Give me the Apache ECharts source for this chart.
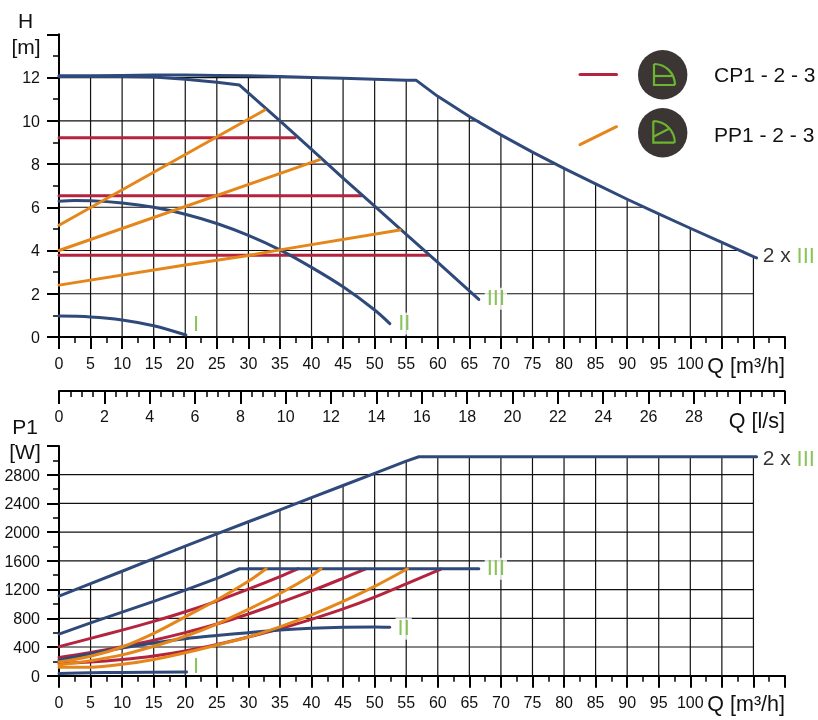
<!DOCTYPE html>
<html><head><meta charset="utf-8">
<style>html,body{margin:0;padding:0;background:#fff}#c{width:818px;height:720px}</style>
<script src="https://cdn.jsdelivr.net/npm/echarts@6/dist/echarts.min.js"></script>
</head><body><div id="c"></div>
<script>
// ---- head curves H(Q) ----
const headI = [[0,0.97],[5,0.93],[10,0.79],[15,0.52],[20.1,0.09]];
const headII = [[0,6.28],[2.5,6.31],[5,6.3],[10,6.2],[15,6.0],[20,5.68],[25,5.25],[30,4.7],[35,4.03],[40,3.22],[45,2.32],[50,1.25],[52.4,0.62]];
const headIII = [[0,12.05],[10,12.05],[15,12.02],[20,11.92],[25,11.78],[28.6,11.65],[35,10.0],[40,8.68],[45,7.35],[50,6.05],[55,4.75],[60,3.45],[65,2.13],[66.5,1.74]];
const head2xIII = [[0,12.08],[5,12.08],[10,12.1],[15,12.12],[20,12.12],[25,12.1],[30,12.08],[35,12.05],[40,12.0],[45,11.97],[50,11.92],[55,11.87],[56.6,11.87],[60,11.13],[65,10.2],[70,9.35],[75,8.55],[80,7.8],[85,7.08],[90,6.37],[95,5.69],[100,5.03],[105,4.38],[110,3.72],[110.5,3.66]];
const headCP = [[[0,9.21],[37.4,9.21]],[[0,6.53],[47.9,6.53]],[[0,3.78],[58.5,3.78]]];
const headPP = [[[0,5.17],[32.6,10.5]],[[0,4.0],[41.3,8.2]],[[0,2.4],[20,3.33],[30,3.77],[35,4.03],[54,4.95]]];
// ---- power curves P1(Q) ----
const powerI = [[0,30],[5,40],[10,45],[20.2,50]];
const powerII = [[0,218],[5,305],[10,385],[15,455],[20,515],[25,560],[30,600],[35,636],[40,662],[45,676],[50,680],[52.4,676]];
const powerIII = [[0,580],[5,735],[10,885],[15,1035],[20,1193],[25,1355],[28.6,1490],[66.5,1490]];
const power2xIII = [[0,1110],[5,1282],[10,1455],[15,1630],[20,1805],[25,1975],[30,2145],[35,2310],[40,2480],[45,2650],[50,2820],[55,2990],[57,3050],[110.5,3050]];
const powerCP = [
  [[0,405],[5,520],[10,635],[15,757],[20,891],[25,1040],[30,1205],[35,1380],[37.9,1490]],
  [[0,255],[5,325],[10,405],[15,495],[20,600],[25,720],[30,860],[35,1018],[40,1181],[45,1357],[48.5,1485]],
  [[0,172],[5,190],[10,225],[15,275],[20,345],[25,435],[30,540],[35,655],[40,785],[45,930],[50,1095],[55,1280],[60.5,1485]]
];
const powerPP = [
  [[0,190],[5,270],[10,400],[15,590],[20,820],[25,1055],[30,1315],[32.8,1490]],
  [[0,150],[5,210],[10,290],[15,410],[20,550],[25,720],[30,925],[35,1145],[40,1395],[41.5,1490]],
  [[0,116],[5,118],[10,158],[15,227],[20,320],[25,427],[30,540],[35,680],[40,846],[45,1035],[50,1245],[55.2,1490]]
];
// ---- where each grid line stops (it ends at the 2 x III curve) ----
const headVTop = [[5,12],[10,12],[15,12],[20,12],[25,12],[30,12],[35,12],[40,12],[45,11.95],[50,11.92],[55,11.87],[60,11.13],[65,10.2],[70,9.35],[75,8.55],[80,7.8],[85,7.08],[90,6.37],[95,5.69],[100,5.03],[105,4.38],[110,3.72]];
const headHEnd = [[2,110],[4,108.3],[6,92.5],[8,78.6],[10,66.5],[12,40]];
const powerVTop = [[5,1282],[10,1455],[15,1630],[20,1805],[25,1975],[30,2145],[35,2310],[40,2480],[45,2650],[50,2820],[55,2990],[60,3050],[65,3050],[70,3050],[75,3050],[80,3050],[85,3050],[90,3050],[95,3050],[100,3050],[105,3050],[110,3050]];
const powerHEnd = [[400,110],[800,110],[1200,110],[1600,110],[2000,110],[2400,110],[2800,110]];
// ---- curve labels ----
const headNotes = [[21.7,0.57,'I'],[54.7,0.62,'II'],[69.2,1.77,'III']];
const powerNotes = [[21.7,125,'I'],[54.6,655,'II'],[69.2,1490,'III']];
const head2xNote = [115.6,3.72];
const power2xNote = [115.6,3010];

const NAVY='#2f4a7a', RED='#b5243f', ORANGE='#e5861a', GREEN='#6cb52f', FONT='"Liberation Sans", Arial, sans-serif';
const series=[];
function line(g,data,color,width,z,smooth){
  series.push({type:'line',xAxisIndex:g,yAxisIndex:g,data,symbol:'none',silent:true,animation:false,z,clip:false,smooth:smooth?0.35:false,
    lineStyle:{color,width,cap:'round',join:'round'}});
}
function grid(g,vTop,hEnd){
  vTop.forEach(([x,t])=>line(g,[[x,0],[x,t]],'#111',1.2,1));
  hEnd.forEach(([y,e])=>line(g,[[0,y],[e,y]],'#111',1.2,1));
}
function notes(g,list,two){
  series.push({type:'scatter',xAxisIndex:g,yAxisIndex:g,symbolSize:1,silent:true,animation:false,clip:false,z:6,
    itemStyle:{color:'transparent'},
    data:list.map(n=>({value:[n[0],n[1]],label:{show:true,position:'inside',formatter:n[2],
      color:GREEN,fontFamily:FONT,fontSize:22,backgroundColor:n[2]==='I'?'transparent':'#fff',padding:[0,2]}}))});
  series.push({type:'scatter',xAxisIndex:g,yAxisIndex:g,symbolSize:1,silent:true,animation:false,clip:false,z:6,
    itemStyle:{color:'transparent'},
    data:[{value:two,label:{show:true,position:'inside',formatter:'{a|2 x }{b|III}',
      rich:{a:{color:'#000',fontFamily:FONT,fontSize:21},b:{color:GREEN,fontFamily:FONT,fontSize:22}}}}]});
}
grid(0,headVTop,headHEnd); grid(1,powerVTop,powerHEnd);
headCP.forEach(d=>line(0,d,RED,3,3));
[headI,headII].forEach(d=>line(0,d,NAVY,3,4,true));
[headIII,head2xIII].forEach(d=>line(0,d,NAVY,3,4));
headPP.forEach(d=>line(0,d,ORANGE,3,5));
powerCP.forEach(d=>line(1,d,RED,3,3,true));
[powerI,powerII].forEach(d=>line(1,d,NAVY,3,4,true));
[powerIII,power2xIII].forEach(d=>line(1,d,NAVY,3,4));
powerPP.forEach(d=>line(1,d,ORANGE,3,5,true));
notes(0,headNotes,head2xNote); notes(1,powerNotes,power2xNote);

const lbl={color:'#111',fontFamily:FONT,fontSize:16};
const axLine={show:true,onZero:false,lineStyle:{color:'#000',width:2}};
function xAx(g,max,interval,last,minor,margin,major,minorLen){
  return {type:'value',gridIndex:g,min:0,max,interval,position:'bottom',
    axisLine:axLine,axisTick:{show:true,length:major,lineStyle:{color:'#000',width:2}},
    minorTick:{show:true,splitNumber:minor,length:minorLen,lineStyle:{color:'#000',width:1.5}},
    splitLine:{show:false},minorSplitLine:{show:false},
    axisLabel:Object.assign({margin,showMaxLabel:true,hideOverlap:false,formatter:v=>v>last?'':String(v)},lbl)};
}
function yAx(g,max,interval,last){
  return {type:'value',gridIndex:g,min:0,max,interval,
    axisLine:axLine,axisTick:{show:true,length:12,lineStyle:{color:'#000',width:2}},
    minorTick:{show:true,splitNumber:2,length:6,lineStyle:{color:'#000',width:1.5}},
    splitLine:{show:false},minorSplitLine:{show:false},
    axisLabel:Object.assign({margin:19,hideOverlap:false,formatter:v=>v>last?'':'{t|'+v+'}',
      rich:{t:Object.assign({padding:[3,0,0,0]},lbl)}},lbl)};
}
function text(x,y,t,size,align){return {type:'text',z:10,silent:true,x,y,style:{text:t,fill:'#111',fontFamily:FONT,fontSize:size,textAlign:align||'left',textVerticalAlign:'middle'}};}
const iconStyle={stroke:GREEN,lineWidth:2.2,fill:null};
const graphic=[
  text(25.5,22,'H',21,'center'),text(26,48,'[m]',21,'center'),
  text(25,428,'P1',21,'center'),text(25,453,'[W]',21,'center'),
  text(785,367,'Q [m³/h]',21.5,'right'),text(785,422,'Q [l/s]',21.5,'right'),text(785,705,'Q [m³/h]',21.5,'right'),
  text(714,76,'CP1 - 2 - 3',21),text(714,136,'PP1 - 2 - 3',21),
  {type:'line',z:10,silent:true,shape:{x1:580,y1:74.5,x2:616.5,y2:74.5},style:{stroke:RED,lineWidth:3,lineCap:'round'}},
  {type:'line',z:10,silent:true,shape:{x1:580,y1:144.7,x2:616.5,y2:126.7},style:{stroke:ORANGE,lineWidth:3,lineCap:'round'}},
  {type:'circle',z:10,silent:true,shape:{cx:662.7,cy:74.7,r:24.7},style:{fill:'#3b3633'}},
  {type:'circle',z:10,silent:true,shape:{cx:662.7,cy:132.7,r:24.7},style:{fill:'#3b3633'}},
  {type:'polyline',z:11,silent:true,shape:{points:[[654,64],[654,85],[675,85]]},style:iconStyle},
  {type:'arc',z:11,silent:true,shape:{cx:654,cy:85,r:21,startAngle:-Math.PI/2,endAngle:0,clockwise:true},style:iconStyle},
  {type:'line',z:11,silent:true,shape:{x1:654,y1:76,x2:672,y2:76},style:iconStyle},
  {type:'polyline',z:11,silent:true,shape:{points:[[653.3,121],[653.3,142.7],[674.5,142.7]]},style:iconStyle},
  {type:'arc',z:11,silent:true,shape:{cx:653.3,cy:142.7,r:21.5,startAngle:-Math.PI/2,endAngle:0,clockwise:true},style:iconStyle},
  {type:'line',z:11,silent:true,shape:{x1:653.3,y1:136.7,x2:670,y2:128.3},style:iconStyle}
];
const chart=echarts.init(document.getElementById('c'),null,{renderer:'canvas'});
chart.setOption({
  animation:false,backgroundColor:'#fff',
  grid:[
    {left:59,width:726,top:34.3,height:302.7},
    {left:59,width:726,top:446,height:229.7},
    {left:59,width:725.6,top:390,height:1}
  ],
  xAxis:[xAx(0,115,5,100,2,20,12,6),xAx(1,115,5,100,2,20,12,6),xAx(2,32,2,28,4,19,13,6)],
  yAxis:[yAx(0,14,2,12),yAx(1,3200,400,2800),{type:'value',gridIndex:2,show:false,min:0,max:1}],
  series,graphic
});
</script></body></html>
